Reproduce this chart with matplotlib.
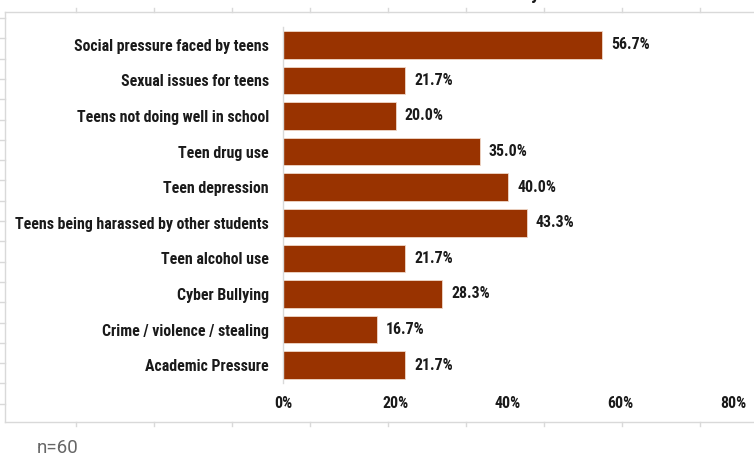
import matplotlib
matplotlib.use('Agg')
import matplotlib.pyplot as plt
from matplotlib.lines import Line2D
from matplotlib import font_manager as fm

categories = [
    "Social pressure faced by teens",
    "Sexual issues for teens",
    "Teens not doing well in school",
    "Teen drug use",
    "Teen depression",
    "Teens being harassed by other students",
    "Teen alcohol use",
    "Cyber Bullying",
    "Crime / violence / stealing",
    "Academic Pressure",
]
values = [56.7, 21.7, 20.0, 35.0, 40.0, 43.3, 21.7, 28.3, 16.7, 21.7]
xticks = [0, 20, 40, 60, 80]
xtick_labels = ["0%", "20%", "40%", "60%", "80%"]
note = "n=60"

# pick a condensed font if one is installed
names = {f.name for f in fm.fontManager.ttflist}
cond = None
for p in ["Liberation Sans Narrow", "Roboto Condensed", "Open Sans Condensed",
          "DejaVu Sans Condensed", "Noto Sans Condensed", "Arial Narrow"]:
    if p in names:
        cond = p
        break
STRETCH = "normal"
if cond is None:
    for f in fm.fontManager.ttflist:
        st = f.stretch
        if (isinstance(st, str) and "condensed" in st) or (isinstance(st, int) and st < 500):
            cond = f.name
            STRETCH = "condensed"
            break
if cond is None:
    cond = "Roboto"
    FS = 10.3
else:
    FS = 11.4
COND = [cond, "DejaVu Sans"]

W, H = 754, 457
fig = plt.figure(figsize=(W / 100, H / 100), dpi=100)


def fx(px):
    return px / W


def fy(py):
    return 1 - py / H


BAR = "#993300"
GRID = "#d9d9d9"
TXT = dict(family=COND, fontweight="bold", fontsize=FS, color="#1a1a1a", fontstretch=STRETCH)

ax = fig.add_axes([fx(283), fy(383), fx(733) - fx(283), fy(27) - fy(383)])
ypos = list(range(len(categories)))
ax.barh(ypos, values, height=0.78, color=BAR, edgecolor="#f0d8c8", linewidth=0.6)
ax.set_ylim(len(categories) - 0.5, -0.5)
ax.set_xlim(0, 80)
ax.set_xticks(xticks)
ax.set_xticklabels(xtick_labels, **TXT)
ax.set_yticks(ypos)
ax.set_yticklabels(categories, **TXT)
ax.tick_params(axis="both", length=0)
ax.tick_params(axis="x", pad=9.5)
ax.tick_params(axis="y", pad=10)
for s in ["top", "right", "bottom"]:
    ax.spines[s].set_visible(False)
ax.spines["left"].set_color(GRID)
ax.spines["left"].set_linewidth(1)

for i, v in enumerate(values):
    ax.annotate(f"{v:.1f}%", xy=(v, i), xytext=(6.5, 0), textcoords="offset points",
                va="center", ha="left", **TXT)

# slide frame with ruler ticks
frame_kw = dict(transform=fig.transFigure, color=GRID, lw=1)
fig.add_artist(Line2D([fx(5), 1], [fy(11.5), fy(11.5)], **frame_kw))
fig.add_artist(Line2D([fx(5), 1], [fy(422), fy(422)], **frame_kw))
fig.add_artist(Line2D([fx(5), fx(5)], [fy(11.5), fy(422)], **frame_kw))
for k in range(-6, 3):
    x = 544 + 78 * k
    fig.add_artist(Line2D([fx(x), fx(x)], [fy(8), fy(11.5)], **frame_kw))
    fig.add_artist(Line2D([fx(x), fx(x)], [fy(422), fy(426)], **frame_kw))
for k in range(20):
    yv = 18 + 20.3 * k
    fig.add_artist(Line2D([fx(0), fx(5)], [fy(yv), fy(yv)], **frame_kw))

# partially visible title glyph at top edge
fig.text(fx(531), fy(-1), "y", family=COND, fontweight="bold", fontsize=14,
         va="baseline", ha="left", color="#1a1a1a")

fig.text(fx(37), fy(448), note, family=["Roboto", "DejaVu Sans"], fontsize=13.5,
         color="#666666", va="center", ha="left")

fig.savefig("out.png", dpi=100)
